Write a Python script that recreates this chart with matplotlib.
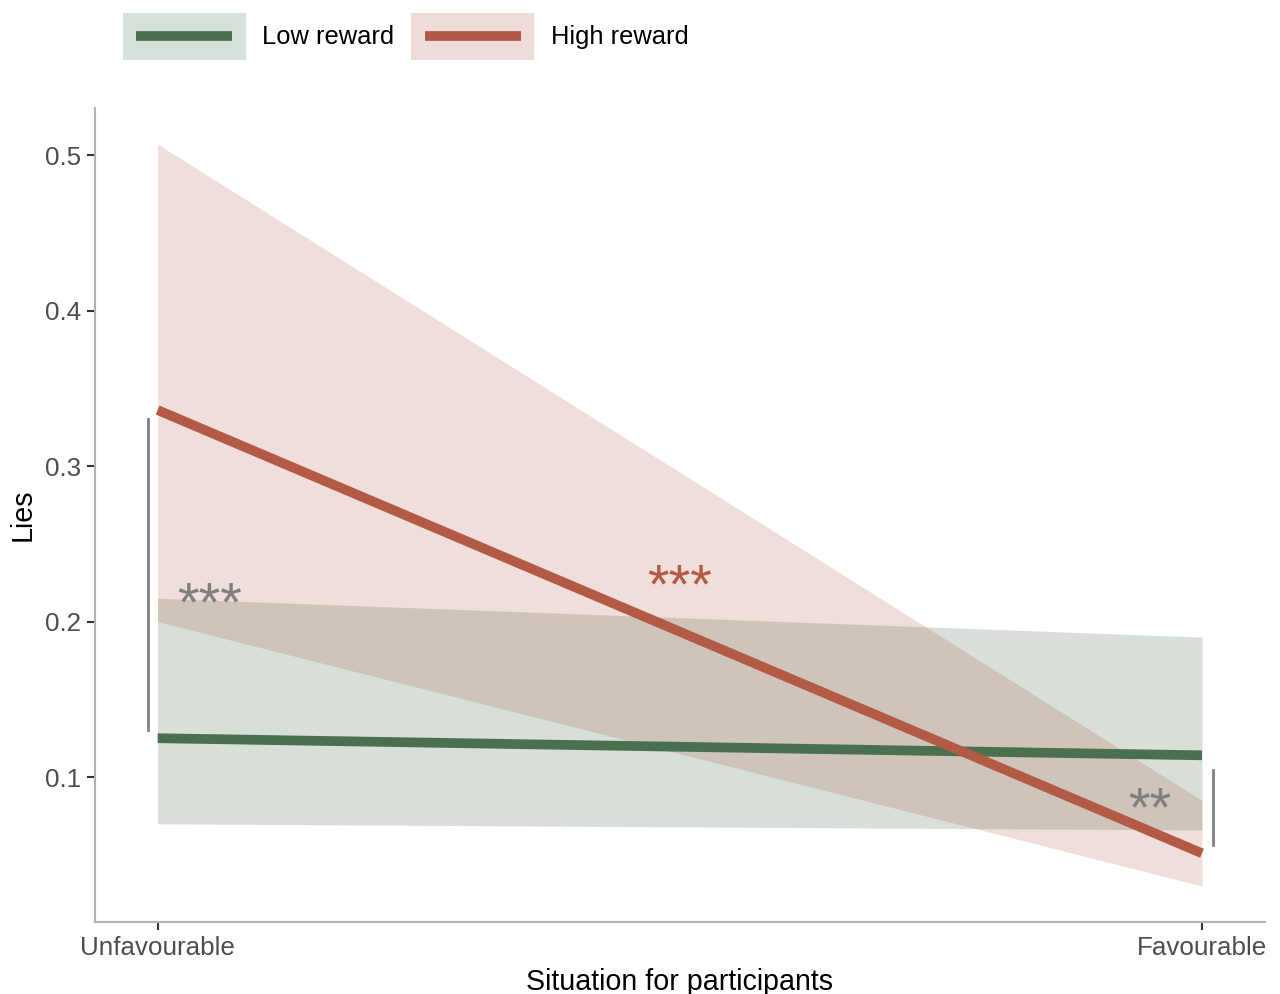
import matplotlib
matplotlib.use("Agg")
import matplotlib.pyplot as plt
from matplotlib.patches import Patch, Rectangle
from matplotlib.lines import Line2D
from matplotlib.legend_handler import HandlerBase

plt.rcParams["font.family"] = ["Liberation Sans", "DejaVu Sans"]

# model predictions at the two situations
situation = [0, 1]
situation_labels = ["Unfavourable", "Favourable"]

low_fit = [0.125, 0.114]
low_lo = [0.070, 0.066]
low_hi = [0.215, 0.190]

high_fit = [0.336, 0.051]
high_lo = [0.200, 0.030]
high_hi = [0.507, 0.085]

GREEN = "#4a7050"
RED = "#b25a45"
GREY = "#808080"


class RibbonLineHandler(HandlerBase):
    """Legend key: filled ribbon box with the fit line centred on it."""

    def create_artists(self, legend, orig_handle, xdescent, ydescent,
                       width, height, fontsize, trans):
        fill, line = orig_handle
        rect = Rectangle((-xdescent, -ydescent), width, height,
                         facecolor=fill.get_facecolor(), linewidth=0,
                         transform=trans)
        ymid = -ydescent + height / 2
        pad = 0.11 * width
        ln = Line2D([-xdescent + pad, -xdescent + width - pad], [ymid, ymid],
                    color=line.get_color(), linewidth=line.get_linewidth(),
                    solid_capstyle="butt", transform=trans)
        return [rect, ln]


fig = plt.figure(figsize=(12.8, 9.94), dpi=100)
ax = fig.add_axes([0.0742, 0.0724, 0.9138, 0.8186])

ax.fill_between(situation, low_lo, low_hi, color=GREEN, alpha=0.22, linewidth=0)
ax.fill_between(situation, high_lo, high_hi, color=RED, alpha=0.2, linewidth=0)
ax.plot(situation, low_fit, color=GREEN, linewidth=7, solid_capstyle="butt")
ax.plot(situation, high_fit, color=RED, linewidth=7, solid_capstyle="butt")

# significance brackets and stars
ax.plot([-0.0096, -0.0096], [0.130, 0.330], color=GREY, linewidth=2)
ax.text(0.05, 0.210, "***", color=GREY, fontsize=40, ha="center", va="center")
ax.text(0.5, 0.221, "***", color=RED, fontsize=40, ha="center", va="center")
ax.plot([1.0105, 1.0105], [0.0563, 0.1045], color=GREY, linewidth=2)
ax.text(0.950, 0.078, "**", color=GREY, fontsize=40, ha="center", va="center")

ax.set_xlim(-0.06, 1.06)
ax.set_ylim(0.0068, 0.530)
ax.set_xticks(situation)
ax.set_xticklabels(situation_labels)
ax.set_yticks([0.1, 0.2, 0.3, 0.4, 0.5])
ax.set_yticklabels(["0.1", "0.2", "0.3", "0.4", "0.5"])
ax.tick_params(length=6, width=1.5, color="#333333", labelcolor="#4d4d4d",
               labelsize=18.7, pad=4)

for side in ("top", "right"):
    ax.spines[side].set_visible(False)
for side in ("left", "bottom"):
    ax.spines[side].set_color("#b3b3b3")
    ax.spines[side].set_linewidth(1.5)

ax.set_xlabel("Situation for participants", fontsize=20.6, labelpad=6)
ax.set_ylabel("Lies", fontsize=20.6, labelpad=6)

handles = [
    (Patch(facecolor="#d6e1da"), Line2D([], [], color=GREEN, linewidth=7)),
    (Patch(facecolor="#efdcd9"), Line2D([], [], color=RED, linewidth=7)),
]
fig.legend(handles, ["Low reward", "High reward"],
           handler_map={tuple: RibbonLineHandler()},
           loc="upper left", bbox_to_anchor=(0.096, 0.987), ncol=2,
           frameon=False, fontsize=18.4,
           handlelength=4.8, handleheight=2.44, handletextpad=0.66,
           columnspacing=0.66, borderpad=0, borderaxespad=0)

fig.savefig("out.png", dpi=100)
